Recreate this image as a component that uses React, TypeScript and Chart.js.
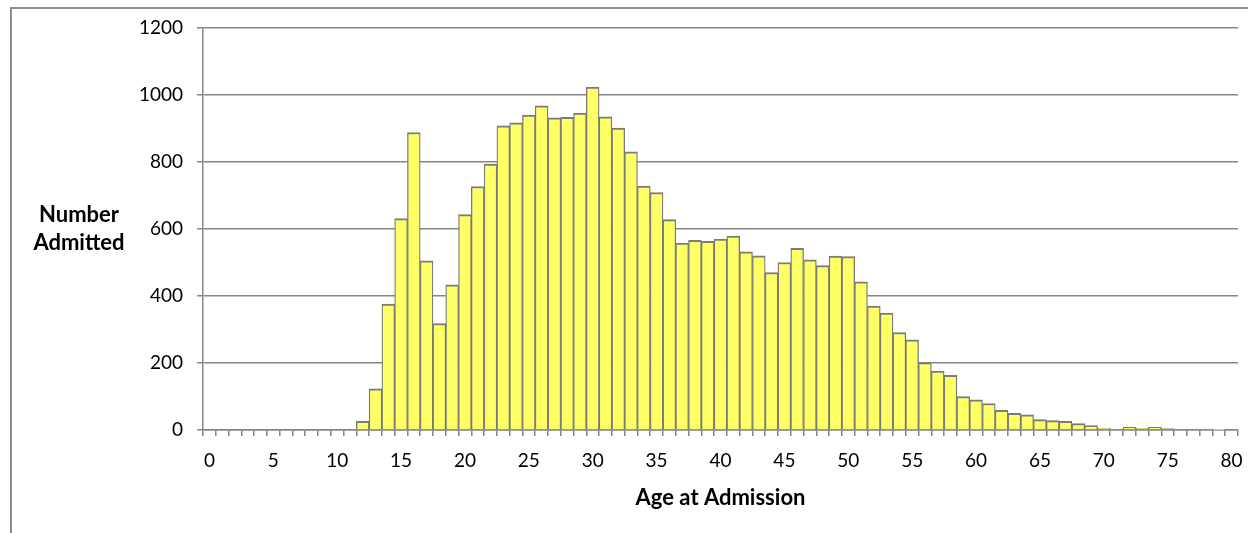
import React, { useEffect, useRef } from "react";
import { Chart, registerables } from "chart.js";

Chart.register(...registerables);

const ages: string[] = [
  "0", "1", "2", "3", "4", "5", "6", "7", "8", "9",
  "10", "11", "12", "13", "14", "15", "16", "17", "18", "19",
  "20", "21", "22", "23", "24", "25", "26", "27", "28", "29",
  "30", "31", "32", "33", "34", "35", "36", "37", "38", "39",
  "40", "41", "42", "43", "44", "45", "46", "47", "48", "49",
  "50", "51", "52", "53", "54", "55", "56", "57", "58", "59",
  "60", "61", "62", "63", "64", "65", "66", "67", "68", "69",
  "70", "71", "72", "73", "74", "75", "76", "77", "78", "79",
  "80",
];

const admitted: number[] = [
  0, 0, 0, 0, 0, 0, 0, 0, 0, 0,
  0, 0, 26, 123, 376, 631, 888, 505, 318, 433,
  643, 727, 794, 908, 917, 940, 968, 932, 933, 946,
  1024, 935, 901, 830, 728, 709, 628, 558, 566, 563,
  570, 579, 532, 520, 470, 500, 542, 508, 491, 519,
  518, 442, 370, 349, 291, 269, 201, 176, 163, 100,
  90, 79, 59, 50, 45, 31, 28, 26, 19, 13,
  6, 3, 8, 6, 8, 4, 3, 3, 3, 1,
  3,
];

const xLabelEvery = 5;
const yTitleLines: string[] = ["Number", "Admitted"];
const xTitle = "Age at Admission";

const GRID = "#868686";
const FONT = "Lato, 'Open Sans', sans-serif";

export default function App() {
  const canvasRef = useRef<HTMLCanvasElement | null>(null);

  useEffect(() => {
    const canvas = canvasRef.current;
    if (!canvas) return;
    const chart = new Chart(canvas, {
      type: "bar",
      data: {
        labels: ages,
        datasets: [
          {
            data: admitted,
            backgroundColor: "#FFFF66",
            borderColor: "#7a7a7a",
            borderWidth: { top: 2, left: 1.3, right: 1.3, bottom: 0 },
            borderSkipped: false,
            barPercentage: 1,
            categoryPercentage: 1,
          },
        ],
      },
      options: {
        animation: false,
        responsive: false,
        devicePixelRatio: 1,
        layout: { padding: { left: 0, right: 10, top: 28, bottom: 0 } },
        plugins: {
          legend: { display: false },
          tooltip: { enabled: false },
        },
        scales: {
          x: {
            type: "category",
            offset: true,
            afterFit: (s: any) => {
              s.height = 103;
              s.paddingLeft = 0;
              s.paddingRight = 0;
            },
            grid: {
              display: true,
              offset: true,
              drawOnChartArea: false,
              drawTicks: true,
              tickLength: 6,
              color: GRID,
              lineWidth: 1.5,
            },
            border: { display: true, color: GRID, width: 1.5 },
            ticks: {
              autoSkip: false,
              maxRotation: 0,
              minRotation: 0,
              padding: 13,
              color: "#000",
              font: { family: FONT, size: 19 },
              callback: (_v: any, i: number) =>
                i % xLabelEvery === 0 ? ages[i] : "",
            },
            title: {
              display: true,
              text: xTitle,
              color: "#000",
              font: { family: FONT, size: 22, weight: "bold" },
              padding: { top: 0, bottom: 22 },
            },
          },
          y: {
            min: 0,
            max: 1200,
            afterFit: (s: any) => {
              s.width = 203;
              s.paddingTop = 0;
              s.paddingBottom = 0;
            },
            grid: {
              color: GRID,
              lineWidth: 1.5,
              drawTicks: true,
              tickLength: 6,
            },
            border: { display: true, color: GRID, width: 1.5 },
            ticks: {
              stepSize: 200,
              padding: 14,
              color: "#000",
              font: { family: FONT, size: 19 },
              callback: (v: any) => String(v),
            },
          },
        },
      },
    });
    return () => chart.destroy();
  }, []);

  return (
    <div
      style={{
        position: "fixed",
        left: 0,
        top: 0,
        width: 1248,
        height: 533,
        overflow: "hidden",
        background: "#fff",
      }}
    >
      <div
        style={{
          position: "absolute",
          left: 10,
          top: 7,
          width: 1300,
          height: 600,
          borderLeft: "2px solid #8c8c8c",
          borderTop: "2px solid #8c8c8c",
        }}
      />
      <canvas
        ref={canvasRef}
        width={1248}
        height={533}
        style={{ position: "absolute", left: 0, top: 0, width: 1248, height: 533 }}
      />
      <div
        style={{
          position: "absolute",
          left: 0,
          top: 200,
          width: 158,
          textAlign: "center",
          fontFamily: FONT,
          fontWeight: "bold",
          fontSize: 22,
          lineHeight: "28px",
          color: "#000",
        }}
      >
        {yTitleLines.map((t) => (
          <div key={t}>{t}</div>
        ))}
      </div>
    </div>
  );
}
